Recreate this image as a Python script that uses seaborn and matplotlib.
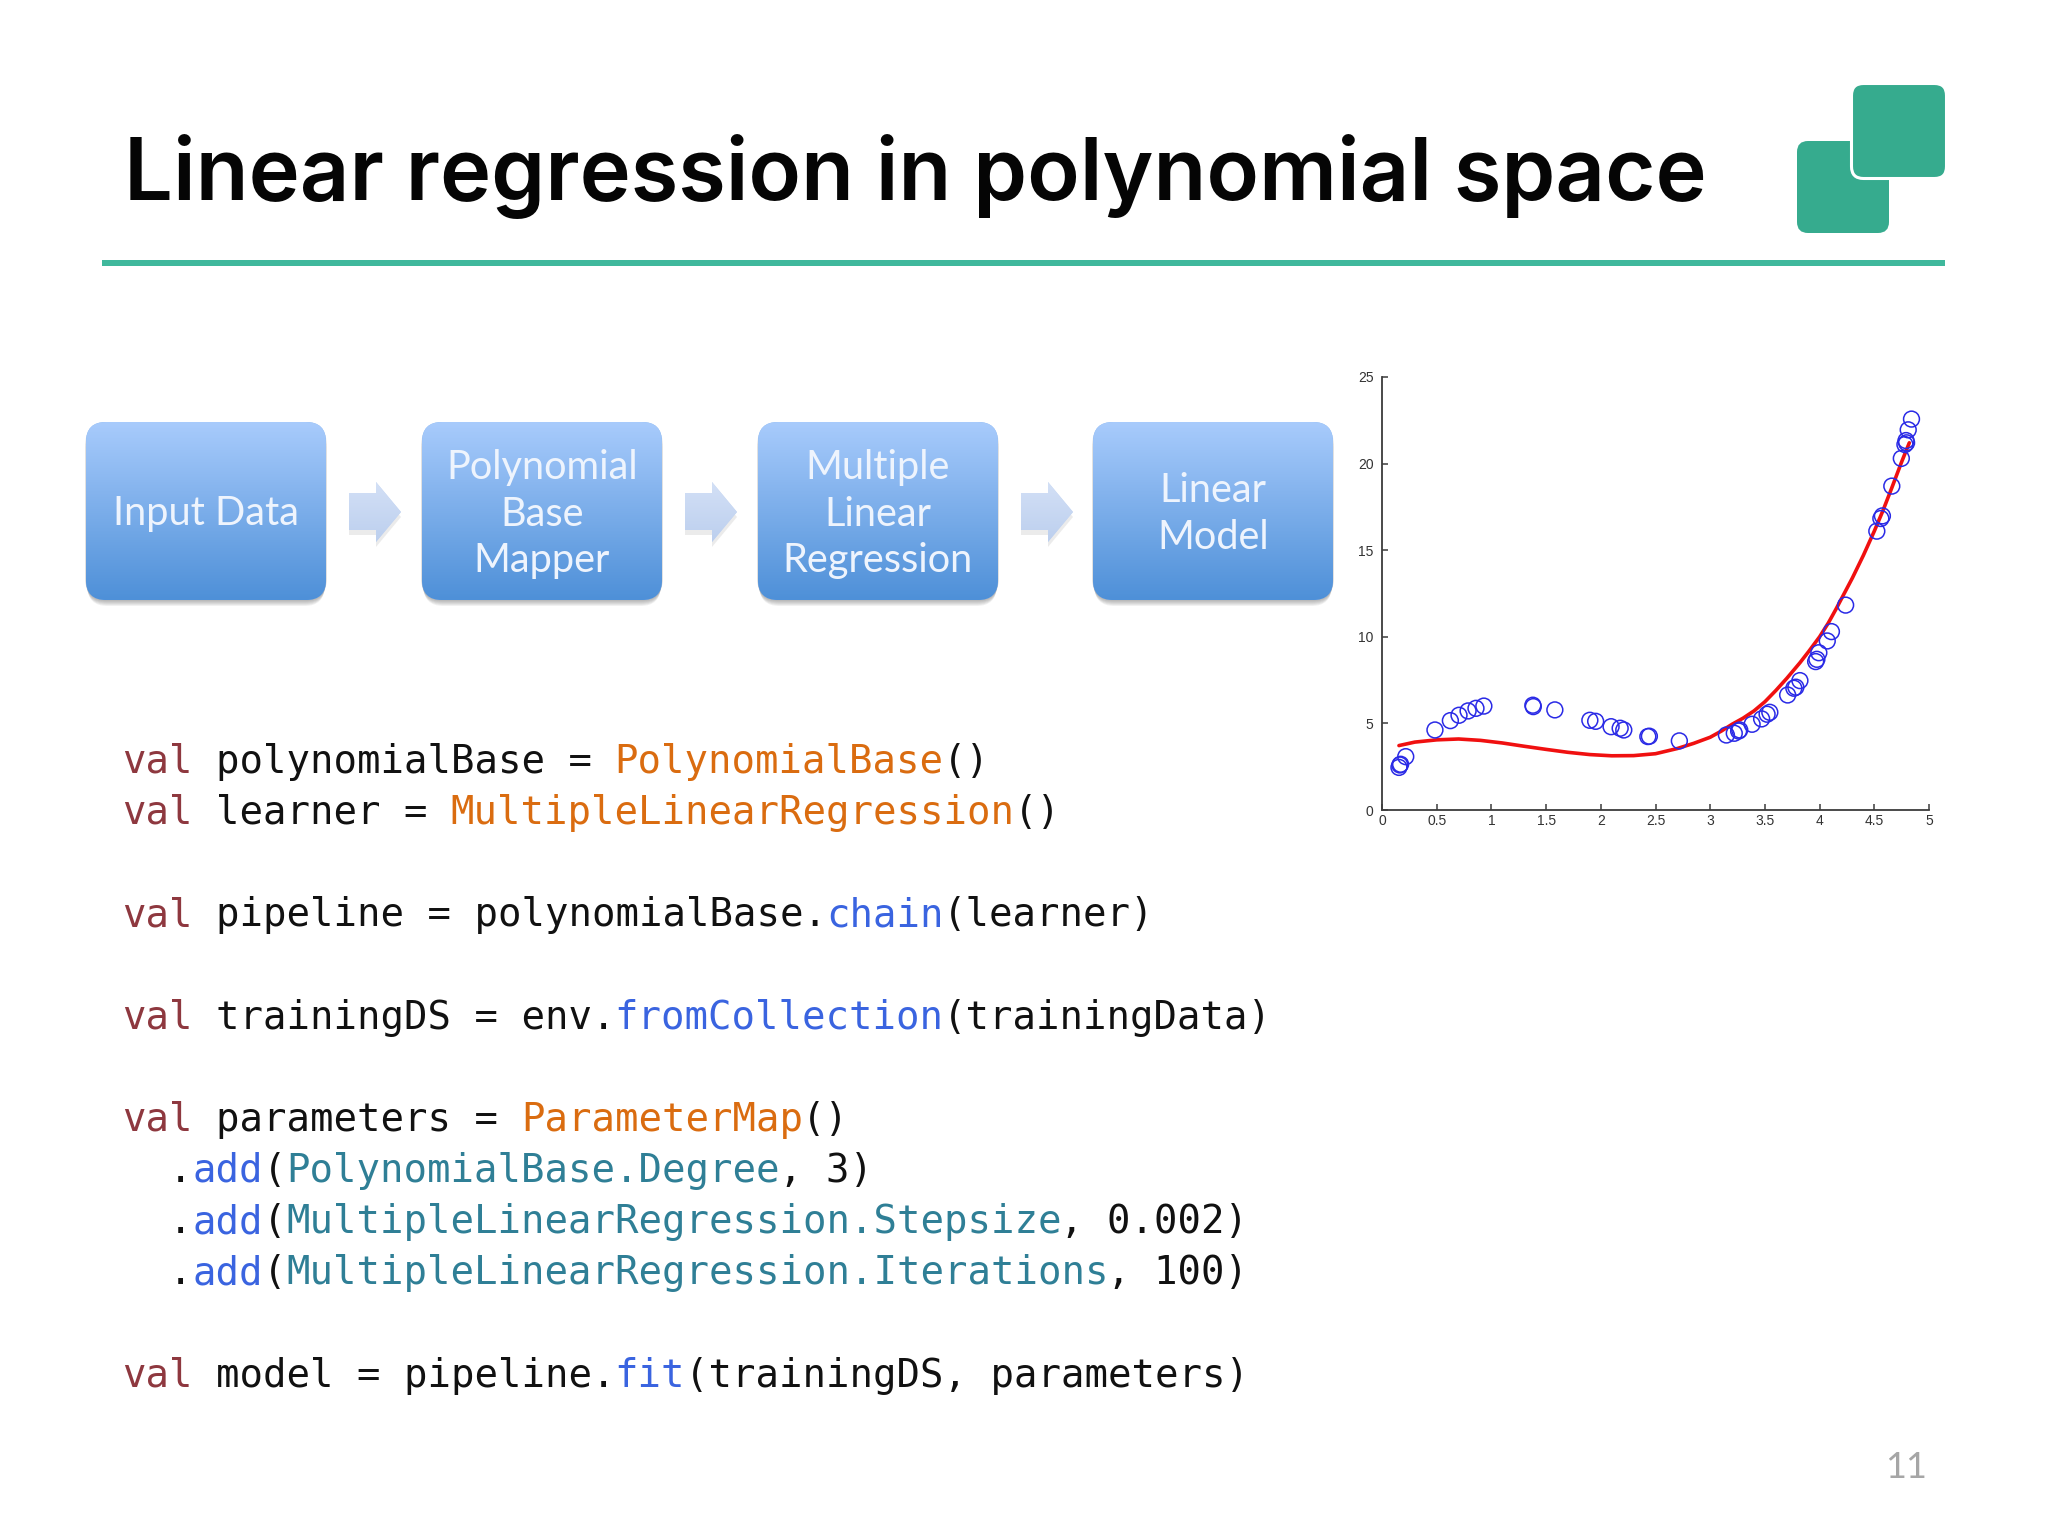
import numpy as np
import pandas as pd
import seaborn as sns
import matplotlib
matplotlib.use('Agg')
import matplotlib.pyplot as plt
from matplotlib.patches import FancyBboxPatch, Polygon
from matplotlib.colors import LinearSegmentedColormap

# scatter values
pts_x = [0.155, 0.163, 0.17, 0.217, 0.484, 0.625, 0.704, 0.787, 0.859, 0.931,
         1.379, 1.383, 1.58, 1.90, 1.953, 2.094, 2.177, 2.21, 2.43, 2.444,
         2.718, 3.148, 3.22, 3.26, 3.27, 3.383, 3.47, 3.52, 3.545, 3.708,
         3.765, 3.783, 3.82, 3.964, 3.975, 3.993, 4.07, 4.108, 4.238, 4.523,
         4.56, 4.574, 4.66, 4.747, 4.78, 4.795, 4.79, 4.81, 4.84]
pts_y = [2.46, 2.6, 2.64, 3.08, 4.62, 5.16, 5.47, 5.72, 5.87, 6.0,
         6.05, 5.97, 5.78, 5.18, 5.12, 4.81, 4.72, 4.62, 4.24, 4.26,
         3.99, 4.33, 4.43, 4.56, 4.62, 4.95, 5.26, 5.53, 5.64, 6.64,
         7.03, 7.09, 7.47, 8.57, 8.7, 9.08, 9.76, 10.3, 11.83, 16.1,
         16.83, 16.98, 18.7, 20.3, 21.1, 21.2, 21.33, 21.95, 22.57]

# red fit
fit_x = [0.155, 0.3, 0.5, 0.7, 0.9, 1.1, 1.3, 1.5, 1.7, 1.9, 2.1, 2.3, 2.5, 2.7,
         2.85, 3.0, 3.1, 3.2, 3.3, 3.4, 3.5, 3.6, 3.7, 3.82, 3.9, 4.0, 4.08, 4.15,
         4.3, 4.4, 4.5, 4.58, 4.66, 4.75, 4.82]
fit_y = [3.72, 3.92, 4.05, 4.1, 4.02, 3.87, 3.68, 3.5, 3.33, 3.2, 3.13, 3.14, 3.25, 3.55,
         3.85, 4.2, 4.55, 4.95, 5.3, 5.72, 6.25, 6.9, 7.6, 8.5, 9.15, 10.0, 10.8, 11.6,
         13.4, 14.7, 16.1, 17.3, 18.6, 20.1, 21.2]

x_ticks = [0, 0.5, 1, 1.5, 2, 2.5, 3, 3.5, 4, 4.5, 5]
x_labels = ['0', '0.5', '1', '1.5', '2', '2.5', '3', '3.5', '4', '4.5', '5']
y_ticks = [0, 5, 10, 15, 20, 25]

title = 'Linear regression in polynomial space'
box_labels = ['Input Data', 'Polynomial\nBase\nMapper', 'Multiple\nLinear\nRegression', 'Linear\nModel']

VAL = '#8e383f'
TYP = '#da6c10'
FUN = '#3a64e0'
MEM = '#2f7f96'
TXT = '#111111'

# line number, column, text, colour
code_tokens = [
    (0, 0, 'val', VAL), (0, 4, 'polynomialBase =', TXT), (0, 21, 'PolynomialBase', TYP), (0, 35, '()', TXT),
    (1, 0, 'val', VAL), (1, 4, 'learner =', TXT), (1, 14, 'MultipleLinearRegression', TYP), (1, 38, '()', TXT),
    (3, 0, 'val', VAL), (3, 4, 'pipeline = polynomialBase.', TXT), (3, 30, 'chain', FUN), (3, 35, '(learner)', TXT),
    (5, 0, 'val', VAL), (5, 4, 'trainingDS = env.', TXT), (5, 21, 'fromCollection', FUN), (5, 35, '(trainingData)', TXT),
    (7, 0, 'val', VAL), (7, 4, 'parameters =', TXT), (7, 17, 'ParameterMap', TYP), (7, 29, '()', TXT),
    (8, 2, '.', TXT), (8, 3, 'add', FUN), (8, 6, '(', TXT), (8, 7, 'PolynomialBase.Degree', MEM), (8, 28, ', 3)', TXT),
    (9, 2, '.', TXT), (9, 3, 'add', FUN), (9, 6, '(', TXT), (9, 7, 'MultipleLinearRegression.Stepsize', MEM), (9, 40, ', 0.002)', TXT),
    (10, 2, '.', TXT), (10, 3, 'add', FUN), (10, 6, '(', TXT), (10, 7, 'MultipleLinearRegression.Iterations', MEM), (10, 42, ', 100)', TXT),
    (12, 0, 'val', VAL), (12, 4, 'model = pipeline.', TXT), (12, 21, 'fit', FUN), (12, 24, '(trainingDS, parameters)', TXT),
]

sns.set_theme(style='white')
W, H = 2048, 1536
fig = plt.figure(figsize=(W / 100, H / 100), dpi=100, facecolor='white')

# whole slide in pixel coordinates
bg = fig.add_axes([0, 0, 1, 1])
bg.set_xlim(0, W)
bg.set_ylim(H, 0)
bg.axis('off')


def round_box(x0, y0, x1, y1, r, **kw):
    return FancyBboxPatch((x0 + r, y0 + r), x1 - x0 - 2 * r, y1 - y0 - 2 * r,
                          boxstyle='round,pad=%f,rounding_size=%f' % (r, r), **kw)


def gradient(patch, x0, y0, x1, y1, top, bottom):
    cmap = LinearSegmentedColormap.from_list('g', [top, bottom])
    im = bg.imshow(np.linspace(0, 1, 200).reshape(-1, 1), cmap=cmap, extent=(x0, x1, y1, y0),
                   aspect='auto', zorder=patch.get_zorder() + 0.1)
    im.set_clip_path(patch)


# title, rule and logo
bg.text(124, 200, title, fontfamily='Inter', fontweight='semibold', fontsize=62.3, color='#050505', va='baseline')
bg.add_patch(plt.Rectangle((102, 260), 1843, 5.5, color='#3fb89c', lw=0))
bg.add_patch(round_box(1797, 141, 1889, 233, 11, fc='#36ab8e', ec='none', zorder=2))
bg.add_patch(round_box(1851.5, 83.5, 1946.5, 178.5, 12, fc='#36ab8e', ec='white', lw=2.2, zorder=3))

# flow boxes
box_left = [86, 422, 758, 1093]
for left, label in zip(box_left, box_labels):
    for i in range(9):
        bg.add_patch(round_box(left - 1 + i * 0.3, 425 + i, left + 241 - i * 0.3, 598 + i, 20,
                               fc='#444444', ec='none', alpha=0.07, zorder=1))
    box = round_box(left, 422, left + 240, 600, 20, fc='#7fb0ee', ec='none', zorder=2)
    bg.add_patch(box)
    gradient(box, left, 422, left + 240, 600, '#a8cbfc', '#4e90d8')
    bg.text(left + 120, 514, label, fontfamily='Lato', fontsize=28.6, color='#eef4fd', ha='center', va='center',
            linespacing=1.31, zorder=5)

# arrows between the boxes
for left in box_left[:-1]:
    x0 = left + 263
    shape = [(x0, 493), (x0 + 27, 493), (x0 + 27, 482), (x0 + 52, 512), (x0 + 27, 542), (x0 + 27, 530), (x0, 530)]
    shadow = [(a, b + 5) for a, b in shape]
    bg.add_patch(Polygon(shadow, fc='#888888', ec='none', alpha=0.16, zorder=1))
    arrow = Polygon(shape, fc='#c5d6f2', ec='none', zorder=2)
    bg.add_patch(arrow)
    gradient(arrow, x0, 482, x0 + 52, 542, '#d3e0f6', '#bccfee')

# code listing
code_x, code_y, col_w, row_h = 122, 757.8, 23.46, 51.15
for row, col, text, color in code_tokens:
    bg.text(code_x + col * col_w, code_y + row * row_h, text, fontfamily='DejaVu Sans Mono', fontsize=28.05,
            color=color, va='center_baseline')

bg.text(1906, 1468, '11', fontfamily='Lato', fontsize=26, color='#a6a6a6', ha='center', va='center')

# small scatter chart
ax = fig.add_axes([1382 / W, 1 - 810 / H, (1929 - 1382) / W, (810 - 377) / H], facecolor='none')
fit_df = pd.DataFrame({'x': fit_x, 'y': fit_y})
pts_df = pd.DataFrame({'x': pts_x, 'y': pts_y})
sns.lineplot(data=fit_df, x='x', y='y', color='#f01010', linewidth=2.6, ax=ax, sort=False, errorbar=None)
sns.scatterplot(data=pts_df, x='x', y='y', marker='o', s=130, facecolor='none', edgecolor='#2a2ae6',
                linewidth=1.1, ax=ax, clip_on=False, zorder=3)
ax.set_xlim(0, 5)
ax.set_ylim(0, 25)
ax.set_xticks(x_ticks)
ax.set_xticklabels(x_labels)
ax.set_yticks(y_ticks)
ax.set_xlabel('')
ax.set_ylabel('')
sns.despine(ax=ax)
for side in ['left', 'bottom']:
    ax.spines[side].set_color('#3c3c3c')
    ax.spines[side].set_linewidth(1.3)
ax.tick_params(direction='in', length=4.5, width=1.1, color='#3c3c3c', labelcolor='#333333', labelsize=10, pad=3,
               bottom=True, left=True)
ax.tick_params(axis='y', pad=6)
for lab in ax.get_xticklabels() + ax.get_yticklabels():
    lab.set_fontfamily('Liberation Sans')

fig.savefig('out.png', dpi=100)
